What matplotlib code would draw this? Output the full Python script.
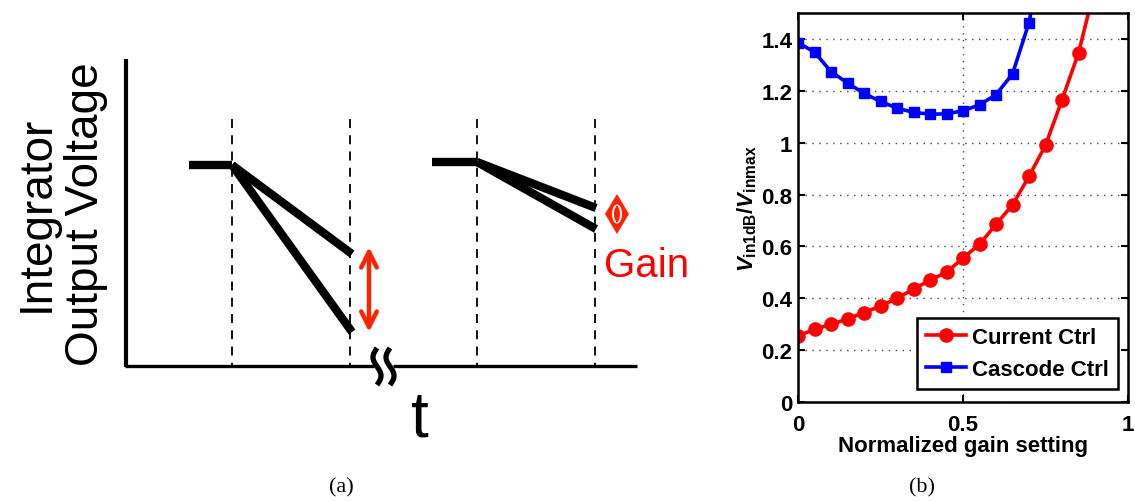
"""Integrator output sketch (a) and V_in1dB/V_inmax vs gain setting (b)."""
import numpy as np
import matplotlib
matplotlib.use("Agg")
import matplotlib.pyplot as plt
from matplotlib.patches import Polygon, Ellipse

plt.rcParams['font.family'] = ['Liberation Sans', 'DejaVu Sans']
plt.rcParams['mathtext.fontset'] = 'custom'
plt.rcParams['mathtext.rm'] = 'Liberation Sans:bold'
plt.rcParams['mathtext.it'] = 'Liberation Sans:italic:bold'
plt.rcParams['mathtext.bf'] = 'Liberation Sans:bold'

# ---- panel (b) data ----
gain_setting = [0.0, 0.05, 0.10, 0.15, 0.20, 0.25, 0.30, 0.35, 0.40, 0.45,
                0.50, 0.55, 0.60, 0.65, 0.70, 0.75, 0.80, 0.85, 0.90]
current_ctrl = [0.255, 0.28, 0.30, 0.32, 0.345, 0.37, 0.40, 0.435, 0.47, 0.50,
                0.555, 0.608, 0.685, 0.76, 0.87, 0.99, 1.165, 1.346, 1.60]
cascode_x = [0.0, 0.05, 0.10, 0.15, 0.20, 0.25, 0.30, 0.35, 0.40, 0.45,
             0.50, 0.55, 0.60, 0.65, 0.70, 0.72]
cascode_ctrl = [1.386, 1.349, 1.274, 1.23, 1.19, 1.159, 1.133, 1.117, 1.11, 1.111,
                1.123, 1.146, 1.185, 1.265, 1.463, 1.60]
x_ticks = [0, 0.5, 1]
x_tick_labels = ['0', '0.5', '1']
y_ticks = [0, 0.2, 0.4, 0.6, 0.8, 1.0, 1.2, 1.4]
y_tick_labels = ['0', '0.2', '0.4', '0.6', '0.8', '1', '1.2', '1.4']

# ---- panel (a) sketch (pixel coordinates of the drawing) ----
flat_1 = ([189, 232], [166, 166])
slope_small_gain = ([232, 352], [166, 255])
slope_large_gain = ([232, 352], [166, 333])
flat_2 = ([432, 477], [163, 163])
slope_2_upper = ([477, 596], [163, 209])
slope_2_lower = ([477, 596], [163, 230])
dashed_x = [232, 350, 477, 595]
break_x = [377, 390]

fig = plt.figure(figsize=(11.35, 5.02), dpi=100)

# sketch canvas covering the whole figure
ax0 = fig.add_axes([0, 0, 1, 1])
ax0.set_xlim(0, 1135)
ax0.set_ylim(502, 0)
ax0.axis('off')

# axes of the sketch
ax0.plot([126, 126], [60, 368], color='black', lw=3.0, solid_capstyle='butt')
ax0.plot([124.5, 374], [367, 367], color='black', lw=2.4, solid_capstyle='butt')
ax0.plot([393, 637], [367, 367], color='black', lw=2.4, solid_capstyle='butt')
for xd in dashed_x:
    ax0.plot([xd, xd], [120, 366], color='black', lw=1.3, ls=(0, (5, 4)))

# axis break squiggles
yy = np.linspace(349, 386, 60)
for xb in break_x:
    ax0.plot(xb - 4 * np.sin(2 * np.pi * (yy - 349) / 37), yy,
             color='black', lw=3.8, solid_capstyle='butt')

# integrator traces
for xs, ys in [flat_1, slope_small_gain, slope_large_gain,
               flat_2, slope_2_upper, slope_2_lower]:
    ax0.plot(xs, ys, color='black', lw=6.0, solid_capstyle='butt')

# red double arrow (large gain spread)
ax0.annotate('', xy=(369, 248), xytext=(369, 333),
             arrowprops=dict(arrowstyle='<->', color='#ff2200', lw=3.2,
                             mutation_scale=28, shrinkA=0, shrinkB=0))

# small diamond arrow (small gain spread)
ax0.add_patch(Polygon([[617, 195], [629, 215], [617, 235], [605, 215]],
                      closed=True, color='#ff2200', lw=0))
ax0.add_patch(Ellipse((617, 215), 8, 17, fill=False, ec='white', lw=1.4))
ax0.plot([617, 617], [208, 222], color='#ff2200', lw=1.6)

ax0.text(604, 266, 'Gain', color='red', fontsize=29, ha='left', va='center')
ax0.text(420, 420, 't', color='black', fontsize=46, ha='center', va='center')
ax0.text(61, 214, 'Integrator\nOutput Voltage', fontsize=33, rotation=90,
         ha='center', va='center', multialignment='center', linespacing=1.15)
ax0.text(341, 488, '(a)', family='Liberation Serif', fontsize=16,
         ha='center', va='center')
ax0.text(922, 488, '(b)', family='Liberation Serif', fontsize=16,
         ha='center', va='center')

# ---- panel (b) ----
ax = fig.add_axes([798 / 1135, 99 / 502, 330 / 1135, 389 / 502])
ax.plot(gain_setting, current_ctrl, color='red', lw=2.6, marker='o',
        markersize=9.5, label='Current Ctrl', clip_on=True)
ax.plot(cascode_x[:-1], cascode_ctrl[:-1], color='blue', lw=2.6, marker='s',
        markersize=7.5, label='Cascode Ctrl', clip_on=True)
ax.plot(cascode_x[-2:], cascode_ctrl[-2:], color='blue', lw=2.6)
ax.set_xlim(0, 1)
ax.set_ylim(0, 1.5)
ax.set_xticks(x_ticks)
ax.set_xticklabels(x_tick_labels)
ax.set_yticks(y_ticks)
ax.set_yticklabels(y_tick_labels)
ax.grid(True, ls=(0, (1, 4)), color='#444444', lw=1.0)
ax.tick_params(direction='in', top=True, right=True, length=5, width=1.5,
               labelsize=16)
ax.tick_params(axis='x', pad=9)
ax.tick_params(axis='y', pad=4)
for lab in ax.get_xticklabels() + ax.get_yticklabels():
    lab.set_fontweight('bold')
for sp in ax.spines.values():
    sp.set_linewidth(1.8)
ax.set_xlabel('Normalized gain setting', fontsize=16, fontweight='bold',
              labelpad=0)
ax.set_ylabel(r'$V_{\mathrm{in1dB}}/V_{\mathrm{inmax}}$', fontsize=16,
              labelpad=2)
leg = ax.legend(loc='lower right', bbox_to_anchor=(0.97, 0.033),
                borderaxespad=0, fancybox=False, framealpha=1,
                prop={'weight': 'bold', 'size': 16}, handlelength=1.8,
                borderpad=0.4, labelspacing=0.5, handletextpad=0.3)
leg.get_frame().set_edgecolor('black')
leg.get_frame().set_linewidth(1.8)

fig.savefig('out.png', dpi=100)
